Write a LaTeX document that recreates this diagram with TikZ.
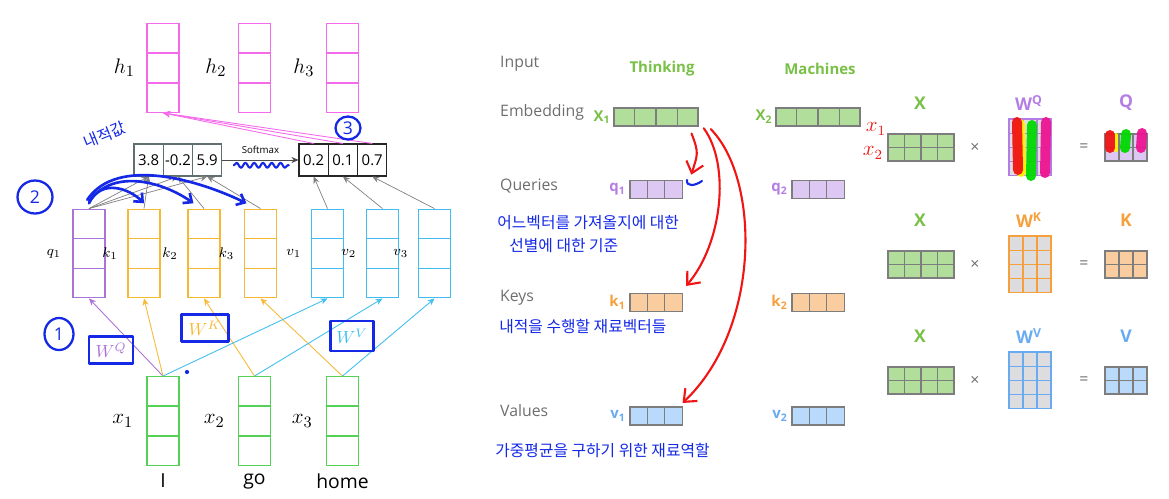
\documentclass[tikz,border=0pt]{standalone}
\usepackage[no-math]{fontspec}
\setmainfont{Open Sans}
\newfontfamily\krfont{Noto Sans CJK KR}
\usetikzlibrary{arrows.meta,calc,positioning,shapes.geometric,decorations.pathmorphing}

\definecolor{hmag}{RGB}{245,105,235}
\definecolor{qpurp}{RGB}{170,115,215}
\definecolor{korange}{RGB}{245,185,55}
\definecolor{vcyan}{RGB}{65,190,240}
\definecolor{xgreen}{RGB}{85,210,85}
\definecolor{handblue}{RGB}{20,40,230}
\definecolor{handred}{RGB}{240,20,20}
\definecolor{scoregray}{RGB}{95,110,110}
\definecolor{txtgray}{RGB}{110,110,110}
\definecolor{cellgray}{RGB}{125,125,125}
\definecolor{lgreen}{RGB}{120,192,70}
\definecolor{embgreen}{RGB}{178,222,155}
\definecolor{lpurp}{RGB}{180,125,230}
\definecolor{qfill}{RGB}{220,200,242}
\definecolor{lorange}{RGB}{245,160,60}
\definecolor{kfill}{RGB}{250,205,160}
\definecolor{lblue}{RGB}{105,170,240}
\definecolor{vfill}{RGB}{185,218,250}
\definecolor{wfill}{RGB}{221,221,223}

% column vector with three cells
\newcommand\colvec[4]{%
  \node[colbox, draw=#4] (#1) at (#2,#3) {};
  \foreach \f in {1,2}
    \draw[#4, line width=0.8pt] ($(#1.north west)!\f/3!(#1.south west)$) -- ($(#1.north east)!\f/3!(#1.south east)$);
}
% row vector: name, x, y, cells, cell width, fill
\newcommand\rowvec[6]{%
  \node[rowbox, fill=#6, minimum width={#4*#5}] (#1) at (#2,#3) {};
  \foreach \f in {1,...,#4}
    \draw[cellgray, line width=0.6pt] ($(#1.north west)!\f/#4!(#1.north east)$) -- ($(#1.south west)!\f/#4!(#1.south east)$);
}
% matrix of cells: x0, y0, cols, rows, cell w, cell h, fill, draw
\newcommand\gridmat[8]{%
  \foreach \i in {1,...,#3}
    \foreach \j in {1,...,#4}
      \draw[fill=#7, draw=#8, line width=0.7pt] ({#1+(\i-1)*#5},{#2+(\j-1)*#6}) rectangle +(#5,#6);
}

\begin{document}
\begin{tikzpicture}[x=0.02cm,y=-0.02cm,
    colbox/.style={line width=0.8pt, minimum width=0.64cm, minimum height=1.77cm, inner sep=0pt},
    cellbox/.style={draw=black!85, line width=0.6pt, minimum width=0.586cm, minimum height=0.64cm, inner sep=0pt, font=\fontsize{8.5}{10}\selectfont},
    gline/.style={draw=black!50, line width=0.4pt, -{Stealth[length=4pt,width=3.5pt]}},
    feed/.style={line width=0.5pt, -{Stealth[length=4pt,width=3.5pt]}},
    hand/.style={draw=handblue, line width=1.5pt, line cap=round, line join=round},
    redhand/.style={draw=handred, line width=1.2pt, line cap=round, -{Straight Barb[length=6pt,width=10pt]}},
    hilite/.style={line width=0.2cm, line cap=round, opacity=0.95},
    rowbox/.style={draw=cellgray, line width=0.6pt, minimum height=0.36cm, inner sep=0pt},
    rowlabel/.style={font=\fontsize{9}{11}\selectfont, text=txtgray, anchor=west},
    veclab/.style={font=\bfseries\fontsize{8.5}{10}\selectfont, inner sep=0pt},
    matlab/.style={font=\bfseries\fontsize{10}{12}\selectfont},
    oplab/.style={font=\fontsize{9}{11}\selectfont, text=txtgray},
    mlab/.style={font=\fontsize{13}{15}\selectfont},
    slab/.style={font=\fontsize{8}{10}\selectfont},
    kr/.style={font=\krfont\fontsize{9}{11}\selectfont, text=handblue, anchor=west, inner sep=0pt},
    circnum/.style={hand, line width=1.3pt, ellipse, inner sep=0pt, text=handblue, font=\fontsize{10}{12}\selectfont}]
  \useasboundingbox (0,0) rectangle (1169,498);

  % ---- left: self-attention for "I go home"
  \colvec{h1}{163}{68}{hmag}
  \colvec{h2}{254.5}{68}{hmag}
  \colvec{h3}{342.5}{68}{hmag}
  \node[mlab, left=3pt of h1] {$h_1$};
  \node[mlab, left=3pt of h2] {$h_2$};
  \node[mlab, left=3pt of h3] {$h_3$};

  \foreach \v [count=\i] in {3.8,-0.2,5.9}
    \node[cellbox, draw=scoregray] (s\i) at ({119.35+29.3*\i},160) {\v};
  \foreach \v [count=\i] in {0.2,0.1,0.7}
    \node[cellbox] (p\i) at ({284.35+29.3*\i},160) {\v};
  \draw[gline, draw=black!70] (s3.east) -- node[above=0pt, font=\fontsize{5.5}{6}\selectfont] (smtext) {Softmax} (p1.west);

  \colvec{q1}{89}{253.5}{qpurp}
  \colvec{k1}{144}{253.5}{korange}
  \colvec{k2}{204}{253.5}{korange}
  \colvec{k3}{260.5}{253.5}{korange}
  \colvec{v1}{327.5}{253.5}{vcyan}
  \colvec{v2}{382.5}{253.5}{vcyan}
  \colvec{v3}{434.5}{253.5}{vcyan}
  \node[slab, left=3pt of q1] {$q_1$};
  \foreach \n in {1,2,3} {
    \node[slab, left=2pt of k\n] {$k_\n$};
    \node[slab, left=2pt of v\n] {$v_\n$};
  }

  \colvec{x1}{163}{421}{xgreen}
  \colvec{x2}{254.5}{421}{xgreen}
  \colvec{x3}{342.5}{421}{xgreen}
  \node[mlab, left=4pt of x1] {$x_1$};
  \node[mlab, left=4pt of x2] {$x_2$};
  \node[mlab, left=4pt of x3] {$x_3$};
  \node[font=\fontsize{11}{13}\selectfont, below=1pt of x1] {I};
  \node[font=\fontsize{11}{13}\selectfont, below=1pt of x2] {go};
  \node[font=\fontsize{11}{13}\selectfont, below=1pt of x3] {home};

  % connectors
  \foreach \s in {s1,s2,s3} \draw[gline] (q1.north) -- (\s.south);
  \foreach \a/\b in {k1/s1,k2/s2,k3/s3,v1/p1,v2/p2,v3/p3} \draw[gline] (\a.north) -- (\b.south);
  \foreach \p in {p1,p2,p3} \draw[feed, hmag] (\p.north) -- (h1.south);
  \draw[feed, qpurp] (x1.north) -- (q1.south);
  \foreach \a/\b in {x1/k1,x2/k2,x3/k3} \draw[feed, korange] (\a.north) -- (\b.south);
  \foreach \a/\b in {x1/v1,x2/v2,x3/v3} \draw[feed, vcyan] (\a.north) -- (\b.south);

  % handwritten notes (left)
  \draw[hand, line width=1.2pt, decorate, decoration={snake, amplitude=1.4pt, segment length=5pt}]
    ([xshift=-1pt,yshift=-3pt]smtext.south west) -- ([xshift=2pt,yshift=-3pt]smtext.south east);
  \draw[hand, -{Straight Barb[length=4pt,width=7pt]}] ([yshift=3pt]q1.north) .. controls +(12,-25) and +(-15,-15) .. ([yshift=3pt]k1.north);
  \draw[hand, -{Straight Barb[length=4pt,width=7pt]}] ([yshift=4pt]q1.north) .. controls +(25,-35) and +(-28,-20) .. ([xshift=-6pt,yshift=3pt]k2.north);
  \draw[hand, -{Straight Barb[length=4pt,width=7pt]}] ([xshift=-1pt,yshift=5pt]q1.north) .. controls +(30,-45) and +(-45,-22) .. ([xshift=-8pt,yshift=3pt]k3.north);
  \node[circnum, minimum width=0.58cm, minimum height=0.64cm] (c1) at (59,334) {1};
  \node[circnum, minimum width=0.7cm, minimum height=0.66cm] (c2) at (35,197) {2};
  \node[circnum, minimum width=0.5cm, minimum height=0.46cm] (c3) at (348,128) {3};
  \node[kr, anchor=center, rotate=22] at (105,135) {내적값};
  \node[hand, line width=1.4pt, minimum width=0.88cm, minimum height=0.54cm, text=qpurp, font=\fontsize{10}{12}\selectfont] (wq) at (111,350) {$W^Q$};
  \node[hand, line width=1.4pt, minimum width=0.94cm, minimum height=0.54cm, text=korange, font=\fontsize{10}{12}\selectfont] (wk) at (205,328) {$W^K$};
  \node[hand, line width=1.4pt, minimum width=0.74cm, minimum height=0.6cm, text=vcyan, font=\fontsize{10}{12}\selectfont] (wv) at (352,336) {$W^V$};
  \fill[handblue] (187,372) circle (1.2pt);

  % ---- middle: Thinking Machines
  \node[rowlabel] at (494,64) {Input};
  \node[rowlabel] at (494,112) {Embedding};
  \node[rowlabel] at (494,186) {Queries};
  \node[rowlabel] at (494,298) {Keys};
  \node[rowlabel] at (494,411) {Values};
  \node[veclab, text=lgreen] at (662,69) {Thinking};
  \node[veclab, text=lgreen] at (820,69) {Machines};

  \rowvec{xe1}{656}{117}{4}{0.42cm}{embgreen}
  \rowvec{xe2}{818}{117}{4}{0.42cm}{embgreen}
  \rowvec{qe1}{656}{189.5}{3}{0.347cm}{qfill}
  \rowvec{qe2}{818}{189.5}{3}{0.347cm}{qfill}
  \rowvec{ke1}{656}{302.5}{3}{0.347cm}{kfill}
  \rowvec{ke2}{818}{302.5}{3}{0.347cm}{kfill}
  \rowvec{ve1}{656}{416}{3}{0.347cm}{vfill}
  \rowvec{ve2}{818}{416}{3}{0.347cm}{vfill}
  \node[veclab, text=lgreen, left=1.5pt of xe1] {X\textsubscript{1}};
  \node[veclab, text=lgreen, left=1.5pt of xe2] {X\textsubscript{2}};
  \node[veclab, text=lpurp, left=2pt of qe1] {q\textsubscript{1}};
  \node[veclab, text=lpurp, left=2pt of qe2] {q\textsubscript{2}};
  \node[veclab, text=lorange, left=2pt of ke1] {k\textsubscript{1}};
  \node[veclab, text=lorange, left=2pt of ke2] {k\textsubscript{2}};
  \node[veclab, text=lblue, left=2pt of ve1] {v\textsubscript{1}};
  \node[veclab, text=lblue, left=2pt of ve2] {v\textsubscript{2}};

  % handwritten notes (middle)
  \draw[redhand] ([xshift=-4pt,yshift=-4pt]xe1.south east) .. controls +(8,20) and +(6,-20) .. ([xshift=5pt,yshift=3pt]qe1.north east);
  \draw[redhand] ([xshift=3pt,yshift=-1pt]xe1.south east) .. controls +(27,37) and +(36,-42) .. ([xshift=2pt,yshift=4pt]ke1.north east);
  \draw[redhand] ([xshift=7pt,yshift=-1.5pt]xe1.south east) .. controls +(50,51) and +(78,-74) .. ([yshift=2pt]ve1.north east);
  \draw[hand, line width=1.2pt] (687,180) .. controls (686,187) and (695,186) .. (702,181);
  \node[kr] at (497,223) {어느벡터를 가져올지에 대한};
  \node[kr] at (509,246) {선별에 대한 기준};
  \node[kr] at (499,327) {내적을 수행할 재료벡터들};
  \node[kr] at (495,451) {가중평균을 구하기 위한 재료역할};

  % ---- right: matrix form
  \foreach \r/\y/\wc/\wn/\rc/\rf/\rn in {0/0/lpurp/Q/lpurp/qfill/Q, 1/117/lorange/K/lorange/kfill/K, 2/233/lblue/V/lblue/vfill/V} {
    \node[matlab, text=lgreen] at (920,{103+\y}) {X};
    \node[matlab, text=\wc] at (1029,{103+\y}) {W\textsuperscript{\wn}};
    \node[matlab, text=\rc] at (1126,{103+\y}) {\rn};
    \node[oplab] at (975,{148+\y}) {×};
    \node[oplab] at (1084,{148+\y}) {=};
    \gridmat{888}{134+\y}{4}{2}{16.5}{13.5}{embgreen}{cellgray}
    \gridmat{1009}{119+\y}{3}{4}{14}{14.2}{wfill}{\wc}
    \gridmat{1105}{134+\y}{3}{2}{14}{13.5}{\rf}{cellgray}
  }
  % colour strokes over W^Q and Q
  \draw[hilite, yellow] (1020,124) -- (1021,172);
  \draw[hilite, handred] (1017,122) -- (1018,170);
  \draw[hilite, green!85!black] (1032,125) -- (1031,176);
  \draw[hilite, magenta!90!pink] (1046,122) -- (1045,173);
  \draw[hilite, line width=0.08cm, yellow] (1116,135) -- (1116,150);
  \draw[hilite, handred] (1110,135) -- (1110,148);
  \draw[hilite, green!85!black] (1126,134) -- (1125,148);
  \draw[hilite, magenta!90!pink] (1142,133) -- (1141,148);
  \node[text=handred, font=\fontsize{12}{14}\selectfont] at (876,129) {$x_1$};
  \node[text=handred, font=\fontsize{12}{14}\selectfont] at (873,153) {$x_2$};
\end{tikzpicture}
\end{document}
